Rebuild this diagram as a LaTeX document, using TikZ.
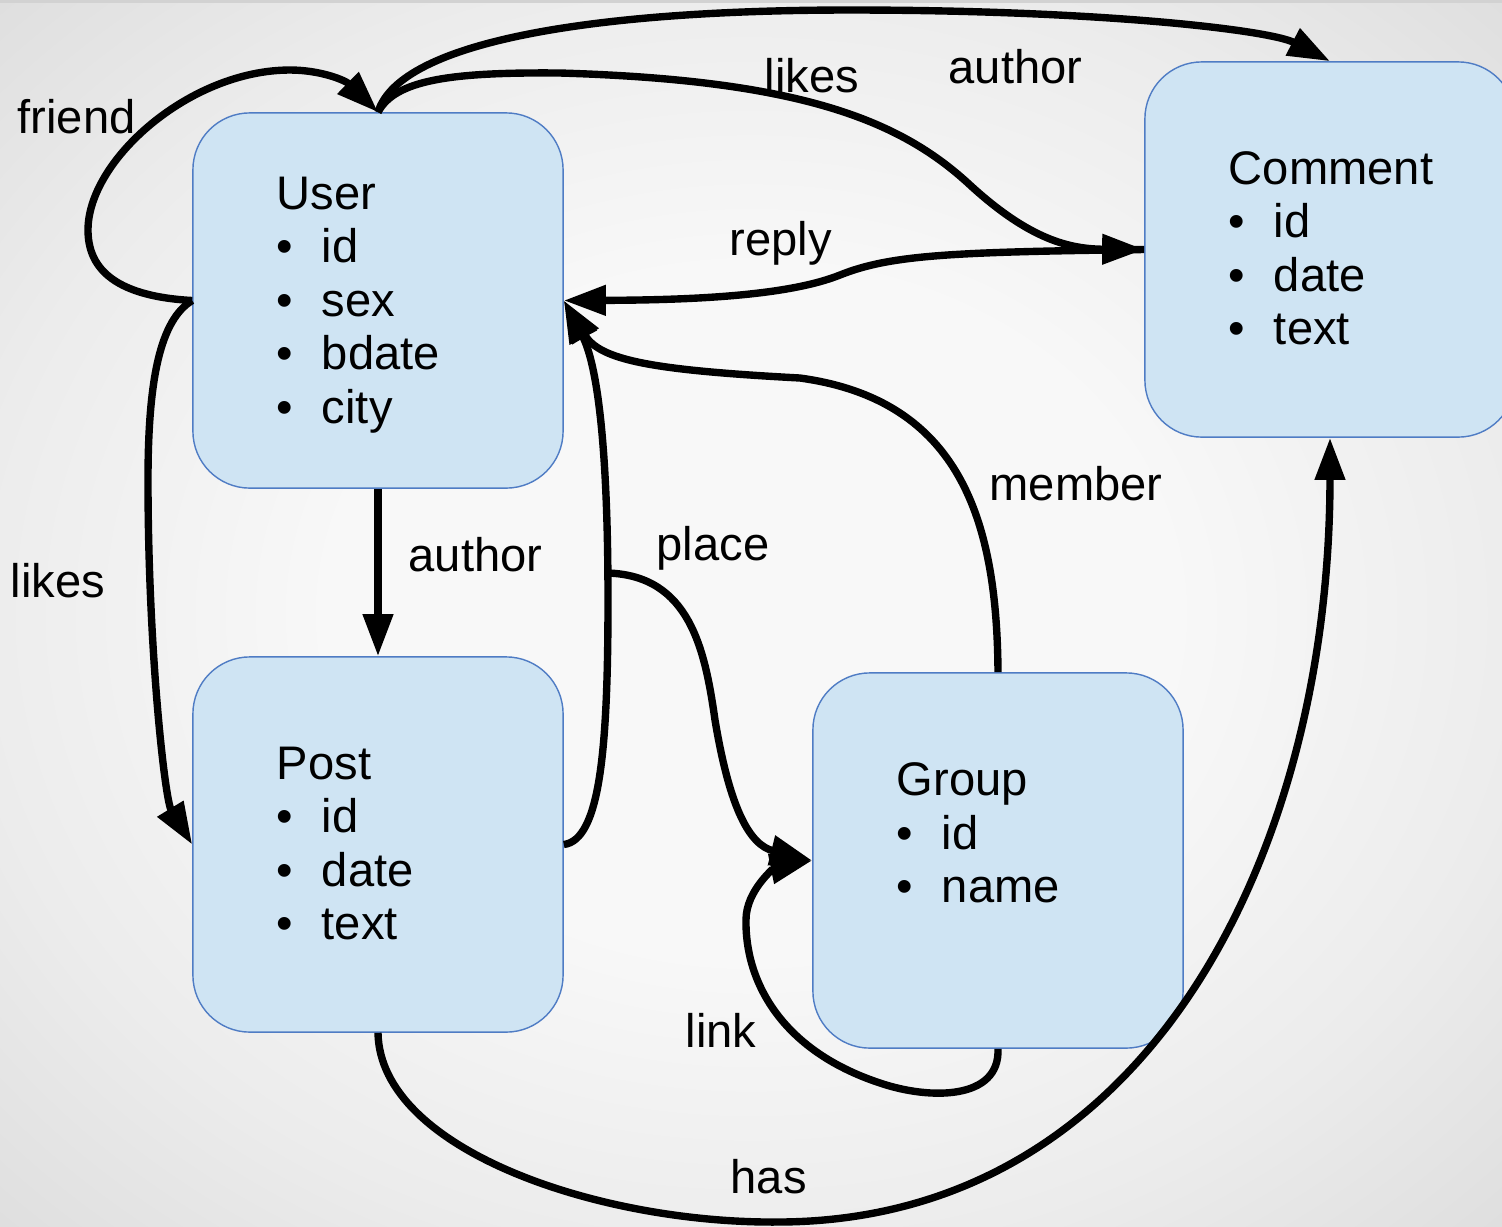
\documentclass[tikz,border=0pt]{standalone}
\usepackage{fontspec}
\setmainfont{Liberation Sans}
\usetikzlibrary{arrows.meta}

\definecolor{boxfill}{RGB}{207,228,243}
\definecolor{boxline}{RGB}{79,124,196}
\definecolor{bgin}{RGB}{248,248,248}
\definecolor{bgmid}{RGB}{236,236,236}
\definecolor{bgout}{RGB}{222,222,222}

% light backdrop, darker towards the corners
\pgfdeclareradialshading{backdrop}{\pgfpoint{0bp}{0bp}}{color(0bp)=(bgin); color(14bp)=(bgin); color(26bp)=(bgmid); color(36bp)=(bgout); color(50bp)=(bgout)}

\newcommand\boxfont{\fontsize{13.4}{15.2}\selectfont}
\newcommand\bitem[1]{\makebox[0.45cm][l]{\textbullet}#1}

\begin{document}
\begin{tikzpicture}[x=0.01cm, y=-0.01cm,
    entity/.style={draw=boxline, fill=boxfill, line width=0.4pt, rounded corners=0.57cm,
      minimum width=3.7cm, minimum height=3.75cm},
    attrs/.style={anchor=base west, align=left, inner sep=0pt, font=\boxfont},
    lbl/.style={anchor=base west, inner sep=0pt, font=\boxfont},
    rel/.style={line width=2.1pt, -{Triangle[length=0.42cm, width=0.29cm]}}]

    \useasboundingbox (0,0) rectangle (1502,1226);
    \clip (0,0) rectangle (1502,1226);
    \shade[shading=backdrop] (0,0) rectangle (1502,1226);
    \fill[gray!35] (0,0) rectangle (1502,3);

    % entities
    \node[entity] (User) at (378,300.5) {};
    \node[entity] (Post) at (378,844.5) {};
    \node[entity] (Comment) at (1330,249.5) {};
    \node[entity] (Group) at (998,860.5) {};

    % attribute lists (anchored at the baseline of the last line)
    \node[attrs] (usertext) at ([shift={(84,311)}]User.north west)
      {User\\\bitem{id}\\\bitem{sex}\\\bitem{bdate}\\\bitem{city}};
    \node[attrs] (posttext) at ([shift={(84,283.5)}]Post.north west)
      {Post\\\bitem{id}\\\bitem{date}\\\bitem{text}};
    \node[attrs] (commenttext) at ([shift={(84,283.5)}]Comment.north west)
      {Comment\\\bitem{id}\\\bitem{date}\\\bitem{text}};
    \node[attrs] (grouptext) at ([shift={(84,230.5)}]Group.north west)
      {Group\\\bitem{id}\\\bitem{name}};

    % friend (loop on User)
    \draw[rel] (User.west) .. controls (110,296) and (88,265) .. (88,230)
      .. controls (88,160) and (190,70) .. (290,70)
      .. controls (320,70) and (345,80) .. (User.north);
    % author: User -> Comment
    \draw[rel] (User.north) .. controls (400,40) and (600,10) .. (850,10)
      .. controls (1100,10) and (1270,30) .. (Comment.north);
    % likes: User -> Comment
    \draw[rel] (User.north) .. controls (395,80) and (450,72) .. (560,73)
      .. controls (800,80) and (900,120) .. (970,185)
      .. controls (1030,240) and (1070,249) .. (Comment.west);
    % reply
    \draw[rel] (Comment.west) .. controls (950,252) and (890,255) .. (840,275)
      .. controls (790,295) and (700,300) .. (User.east);
    % member
    \draw[rel] (Group.north) .. controls (997,520) and (960,400) .. (800,378)
      .. controls (650,370) and (600,360) .. (User.east);
    % place
    \draw[rel] (Post.east) .. controls (600,840) and (608,750) .. (608,600)
      .. controls (608,430) and (595,360) .. (User.east);
    \coordinate (fork) at (607,573);
    \draw[rel] (fork) .. controls (690,575) and (705,650) .. (715,720)
      .. controls (730,810) and (750,845) .. (Group.west);
    % link (loop on Group)
    \draw[rel] (Group.south) .. controls (1000,1100) and (930,1100) .. (880,1083)
      .. controls (780,1050) and (745,980) .. (746,920)
      .. controls (746,890) and (775,868) .. (Group.west);
    % has
    \draw[rel] (Post.south) .. controls (380,1150) and (600,1224) .. (780,1222)
      .. controls (1150,1220) and (1330,850) .. (Comment.south);
    % author: User -> Post
    \draw[rel] (User.south) -- (Post.north);
    % likes: User -> Post
    \draw[rel] (User.west) .. controls (160,320) and (148,380) .. (148,480)
      .. controls (148,650) and (165,800) .. (Post.west);

    % labels
    \node[lbl] (friendlbl) at (17,133) {friend};
    \node[lbl] (likestoplbl) at (764,92) {likes};
    \node[lbl] (authortoplbl) at (948,83) {author};
    \node[lbl] (replylbl) at (729,255) {reply};
    \node[lbl] (authorlbl) at (408,571) {author};
    \node[lbl] (placelbl) at (656,560) {place};
    \node[lbl] (memberlbl) at (989,500) {member};
    \node[lbl] (likeslbl) at (10,597) {likes};
    \node[lbl] (linklbl) at (685,1047) {link};
    \node[lbl] (haslbl) at (730,1193) {has};
\end{tikzpicture}
\end{document}
